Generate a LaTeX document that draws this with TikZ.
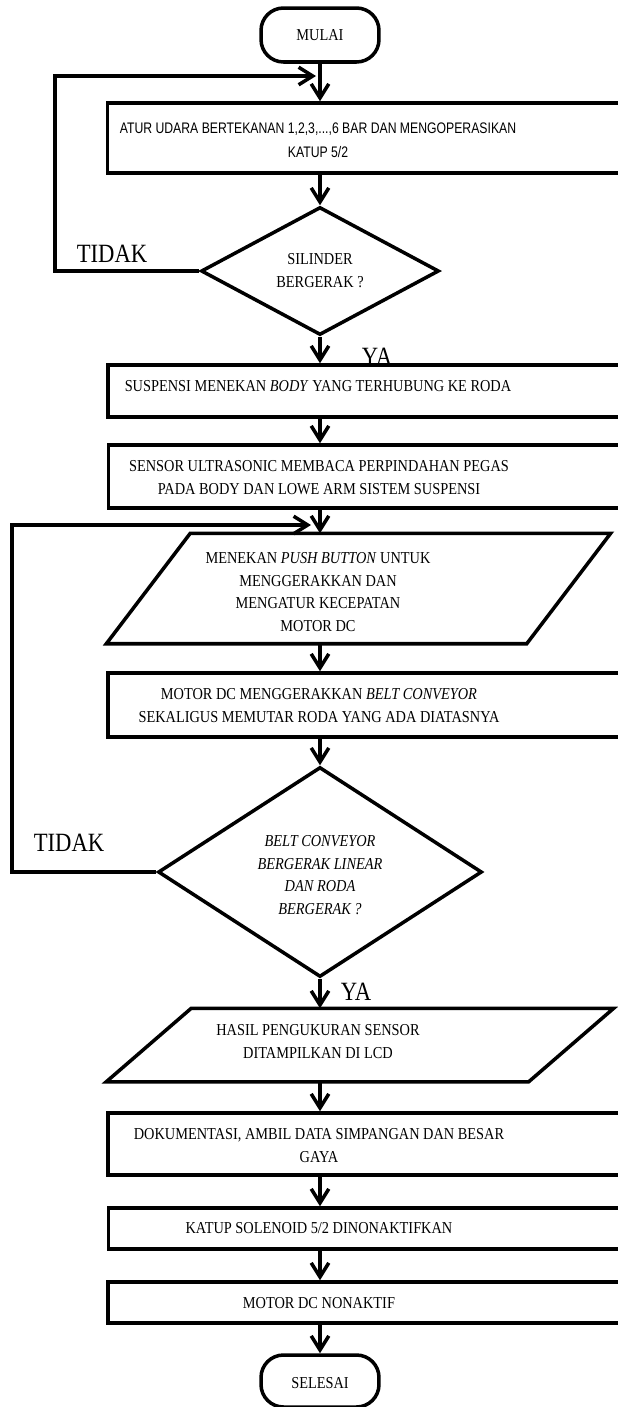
\documentclass[tikz,border=0pt]{standalone}
\usepackage{fontspec}
\setmainfont{Liberation Serif}
\newfontfamily\condserif[FakeStretch=0.86]{Liberation Serif}
\newfontfamily\condsans[FakeStretch=0.80]{Liberation Sans}
\usetikzlibrary{arrows.meta,shapes.geometric}
\newcommand{\flowframe}{(0,0) rectangle (618,1407)}
\newcommand{\boxfont}{\condserif\fontsize{9.5}{13}\selectfont}
\newcommand{\tagfont}{\condserif\fontsize{15}{18}\selectfont}
% parallelogram over an invisible node: #1 node, #2 slant
\newcommand{\slantbox}[2]{\draw ([xshift=#2]#1.north west) -- (#1.north east)
  -- ([xshift=-#2]#1.south east) -- (#1.south west) -- cycle;}

\begin{document}
\begin{tikzpicture}[x=0.02cm, y=-0.02cm, line width=2pt,
  every node/.style={inner sep=0pt},
  flowarrow/.style={-{Straight Barb[length=8pt,width=10pt,line width=2pt]}},
  termbox/.style={draw, rectangle, rounded corners=0.45cm, minimum width=2.36cm, minimum height=1.08cm},
  procbox/.style={draw, rectangle, minimum width=10.64cm},
  decbox/.style={draw, diamond},
  iobox/.style={rectangle, minimum width=10.02cm},
  boxtext/.style={font=\boxfont, align=center}]

  \useasboundingbox \flowframe;
  \clip \flowframe;

  % terminals and process boxes
  \node[termbox] (mulai) at (320,35) {};
  \node[font=\boxfont] (tmulai) at (320,35) {MULAI};
  \node[procbox, minimum height=1.4cm] (atur) at (373.5,138) {};
  \node[font=\condsans\fontsize{8.7}{13.5}\selectfont, align=center] (tatur) at (318,140)
    {ATUR UDARA BERTEKANAN 1,2,3,...,6 BAR DAN MENGOPERASIKAN\\KATUP 5/2};
  \node[decbox, minimum width=4.76cm, minimum height=2.56cm] (silinder) at (320,271) {};
  \node[boxtext] (tsilinder) at (320,271) {SILINDER\\BERGERAK ?};
  \node[procbox, minimum height=1.04cm] (suspensi) at (374,391) {};
  \node[boxtext] (tsuspensi) at (318,386) {SUSPENSI MENEKAN \textit{BODY} YANG TERHUBUNG KE RODA};
  \node[procbox, minimum height=1.26cm] (sensor) at (374.5,476.5) {};
  \node[boxtext] (tsensor) at (319,477.5)
    {SENSOR ULTRASONIC MEMBACA PERPINDAHAN PEGAS\\PADA BODY DAN LOWE ARM SISTEM SUSPENSI};
  \node[iobox, minimum height=2.14cm] (tombol) at (358.5,588.5) {};
  \slantbox{tombol}{1.68cm}
  \node[boxtext] (ttombol) at (318,592)
    {MENEKAN \textit{PUSH BUTTON} UNTUK\\MENGGERAKKAN DAN\\MENGATUR KECEPATAN\\MOTOR DC};
  \node[procbox, minimum height=1.28cm] (motor) at (374,705) {};
  \node[boxtext] (tmotor) at (319,705.5)
    {MOTOR DC MENGGERAKKAN \textit{BELT CONVEYOR}\\SEKALIGUS MEMUTAR RODA YANG ADA DIATASNYA};
  \node[decbox, minimum width=6.48cm, minimum height=4.2cm] (belt) at (320,872) {};
  \node[boxtext, font=\boxfont\itshape] (tbelt) at (320,875)
    {BELT CONVEYOR\\BERGERAK LINEAR\\DAN RODA\\BERGERAK ?};
  \node[iobox, minimum width=10.08cm, minimum height=1.4cm] (hasil) at (360,1045) {};
  \slantbox{hasil}{1.7cm}
  \node[boxtext] (thasil) at (318,1041.5) {HASIL PENGUKURAN SENSOR\\DITAMPILKAN DI LCD};
  \node[procbox, minimum height=1.24cm] (dokumen) at (374,1144) {};
  \node[boxtext] (tdokumen) at (319,1145.5) {DOKUMENTASI, AMBIL DATA SIMPANGAN DAN BESAR\\GAYA};
  \node[procbox, minimum height=0.82cm] (katup) at (374.5,1228.5) {};
  \node[boxtext] (tkatup) at (319,1228) {KATUP SOLENOID 5/2 DINONAKTIFKAN};
  \node[procbox, minimum height=0.82cm] (mati) at (374,1302.5) {};
  \node[boxtext] (tmati) at (319,1303) {MOTOR DC NONAKTIF};
  \node[termbox, minimum height=1.04cm] (selesai) at (320,1381) {};
  \node[font=\boxfont] (tselesai) at (320,1383) {SELESAI};

  % main flow
  \draw[flowarrow] (mulai.south) -- (mulai.south |- atur.north);
  \draw[flowarrow] (mulai.south |- atur.south) -- (silinder.north);
  \draw[flowarrow] (silinder.south) -- (silinder.south |- suspensi.north);
  \draw[flowarrow] (silinder.south |- suspensi.south) -- (silinder.south |- sensor.north);
  \draw[flowarrow] (silinder.south |- sensor.south) -- (silinder.south |- tombol.north);
  \draw[flowarrow] (silinder.south |- tombol.south) -- (silinder.south |- motor.north);
  \draw[flowarrow] (silinder.south |- motor.south) -- (belt.north);
  \draw[flowarrow] (belt.south) -- (belt.south |- hasil.north);
  \draw[flowarrow] (belt.south |- hasil.south) -- (belt.south |- dokumen.north);
  \draw[flowarrow] (belt.south |- dokumen.south) -- (belt.south |- katup.north);
  \draw[flowarrow] (belt.south |- katup.south) -- (belt.south |- mati.north);
  \draw[flowarrow] (belt.south |- mati.south) -- (selesai.north);

  % loops back
  \coordinate (ulang1) at (55,76);
  \coordinate (masuk1) at (316,76);
  \coordinate (ulang2) at (12,525);
  \coordinate (masuk2) at (311,525);
  \draw[flowarrow] (silinder.west) -| (ulang1) -- (masuk1);
  \draw[flowarrow] (belt.west) -| (ulang2) -- (masuk2);

  \node[font=\tagfont] (tidak1) at (112,254) {TIDAK};
  \node[font=\tagfont] (ya1) at (377,357) {YA};
  \node[font=\tagfont] (tidak2) at (69,843) {TIDAK};
  \node[font=\tagfont] (ya2) at (356,992) {YA};

\end{tikzpicture}
\end{document}
